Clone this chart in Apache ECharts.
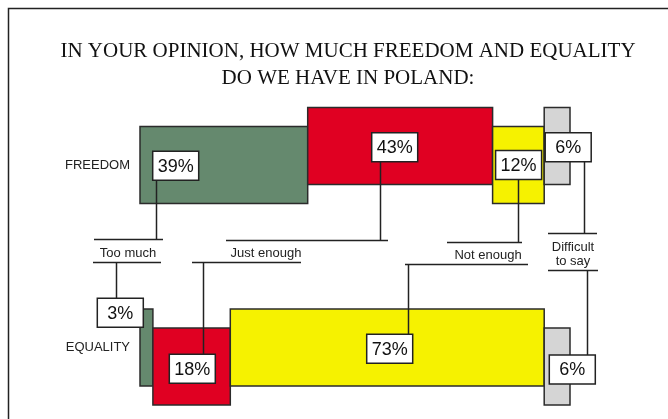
<!DOCTYPE html>
<html>
<head>
<meta charset="utf-8">
<title>Freedom and equality in Poland</title>
<script src="https://cdn.jsdelivr.net/npm/echarts@6/dist/echarts.min.js"></script>
<style>
  html, body { margin: 0; padding: 0; background: #fff; }
  #chart { width: 668px; height: 419px; }
</style>
</head>
<body>
<div id="chart"></div>
<script>
// Survey answers, in percent
const rows = ['FREEDOM', 'EQUALITY'];
const answers = ['Too much', 'Just enough', 'Not enough', 'Difficult\nto say'];
const freedom = [39, 43, 12, 6];
const equality = [3, 18, 73, 6];

// ---- styling / layout ----
const colors = ['#65896e', '#e00022', '#f6f200', '#d5d5d5'];
const INK = '#222';
const BAR_H = 77;
// vertical stagger of each segment relative to its row centre
const stagger = [[0, -19, 0, -19], [0, 19, 0, 19]];
// value box placement: offset from segment's top-left, plus connector x inside box
const BOX_W = 46, BOX_H = 29;
const boxPos = [
  [{ dx: 12.7, dy: 24.7, lx: 3.3 }, { dx: 64, dy: 25.3, lx: 8.6 }, { dx: 3, dy: 24, lx: 22 }, { dx: 1, dy: 25.3, lx: 39 }],
  [{ dx: -42.7, dy: -10.7, lx: 18.7 }, { dx: 16.4, dy: 26.3, lx: 33.7 }, { dx: 136.4, dy: 25.3, lx: 41.6 }, { dx: 5.1, dy: 27, lx: 37.4 }]
];
// answer captions between the rows: rule above, text, rule below
const captionPos = [
  { tx: 128, ty: 253, top: [94, 163, 239], bottom: [93, 161, 262] },
  { tx: 266, ty: 253, top: [226, 388, 240], bottom: [192, 301, 262] },
  { tx: 488, ty: 255, top: [447, 522, 242], bottom: [405, 528, 264] },
  { tx: 573, ty: 254, top: [548, 597, 233], bottom: [548, 598, 270] }
];

// build segments: [start, end, row, segment, value]
const segData = [];
[freedom, equality].forEach((vals, r) => {
  let acc = 0;
  vals.forEach((v, i) => {
    segData.push([acc, acc + v, r, i, v]);
    acc += v;
  });
});

function renderSegment(params, api) {
  const start = api.value(0), end = api.value(1);
  const r = api.value(2), i = api.value(3), v = api.value(4);
  const p0 = api.coord([start, r]);
  const p1 = api.coord([end, r]);
  const top = p0[1] + stagger[r][i] - BAR_H / 2;
  const bp = boxPos[r][i];
  const bx = p0[0] + bp.dx;
  const by = top + bp.dy;
  const lx = Math.round(bx + bp.lx) + 0.5;
  const cap = captionPos[i];
  const line = r === 0
    ? { x1: lx, y1: by + BOX_H, x2: lx, y2: cap.top[2] }
    : { x1: lx, y1: cap.bottom[2], x2: lx, y2: by };
  return {
    type: 'group',
    children: [
      {
        type: 'rect',
        shape: { x: p0[0], y: top, width: p1[0] - p0[0], height: BAR_H },
        style: { fill: colors[i], stroke: '#2b2b2b', lineWidth: 1.5 },
        z2: 1
      },
      {
        type: 'line',
        shape: line,
        style: { stroke: INK, lineWidth: 1.5 },
        z2: 5
      },
      {
        type: 'rect',
        shape: { x: bx, y: by, width: BOX_W, height: BOX_H },
        style: { fill: '#fff', stroke: INK, lineWidth: 1.5 },
        z2: 10
      },
      {
        type: 'text',
        x: bx + BOX_W / 2,
        y: by + BOX_H / 2 + 1,
        style: {
          text: v + '%',
          fill: '#111',
          font: '18px "Liberation Sans", Arial, sans-serif',
          align: 'center',
          verticalAlign: 'middle'
        },
        z2: 11
      }
    ]
  };
}

// caption graphics
const captionGraphics = [];
answers.forEach((name, i) => {
  const c = captionPos[i];
  captionGraphics.push({
    type: 'line',
    shape: { x1: c.top[0], y1: c.top[2] + 0.5, x2: c.top[1], y2: c.top[2] + 0.5 },
    style: { stroke: INK, lineWidth: 1.5 }
  });
  captionGraphics.push({
    type: 'line',
    shape: { x1: c.bottom[0], y1: c.bottom[2] + 0.5, x2: c.bottom[1], y2: c.bottom[2] + 0.5 },
    style: { stroke: INK, lineWidth: 1.5 }
  });
  captionGraphics.push({
    type: 'text',
    x: c.tx,
    y: c.ty,
    style: {
      text: name,
      fill: INK,
      font: '13px "Liberation Sans", Arial, sans-serif',
      align: 'center',
      verticalAlign: 'middle',
      lineHeight: 14
    }
  });
});

const chart = echarts.init(document.getElementById('chart'), null, { renderer: 'canvas' });
chart.setOption({
  animation: false,
  backgroundColor: '#fff',
  title: {
    text: 'IN YOUR OPINION, HOW MUCH FREEDOM AND EQUALITY\nDO WE HAVE IN POLAND:',
    left: 343,
    top: 33,
    textAlign: 'center',
    textStyle: {
      fontFamily: '"Liberation Serif", "Times New Roman", serif',
      fontWeight: 'normal',
      fontSize: 21,
      lineHeight: 27,
      color: '#111'
    }
  },
  grid: {
    left: 140,
    width: 430,
    top: 73.75,
    height: 365,
    containLabel: false,
    outerBoundsMode: 'none'
  },
  xAxis: {
    type: 'value',
    min: 0,
    max: 100,
    show: false
  },
  yAxis: {
    type: 'category',
    data: rows,
    inverse: true,
    axisLine: { show: false },
    axisTick: { show: false },
    splitLine: { show: false },
    axisLabel: {
      margin: 10,
      fontSize: 13,
      color: INK,
      fontFamily: '"Liberation Sans", Arial, sans-serif'
    }
  },
  graphic: [
    {
      type: 'polyline',
      shape: { points: [[8.5, 430], [8.5, 8.5], [680, 8.5]] },
      style: { stroke: INK, lineWidth: 1.5, fill: null }
    }
  ].concat(captionGraphics),
  series: [
    {
      type: 'custom',
      renderItem: renderSegment,
      data: segData,
      encode: { x: [0, 1], y: 2 },
      clip: false
    }
  ]
});
</script>
</body>
</html>
